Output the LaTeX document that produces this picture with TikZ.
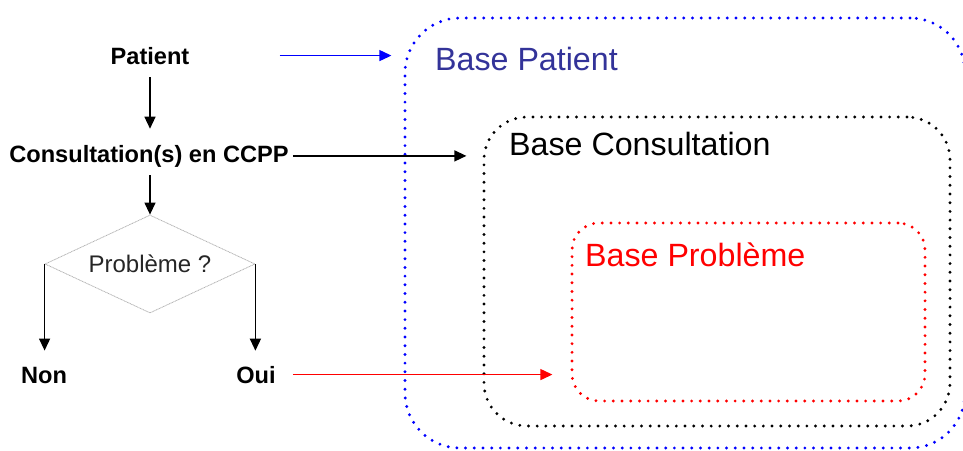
\documentclass[tikz,border=0pt]{standalone}
\usepackage{fontspec}
\setmainfont{Liberation Sans}
\usepackage{xcolor}
\definecolor{indigo}{RGB}{51,51,153}
\usetikzlibrary{shapes.geometric}
\usetikzlibrary{arrows.meta}

\tikzset{
  flow/.style={font=\fontsize{23.6}{26}\selectfont\bfseries, inner sep=0pt, anchor=base},
  arr/.style={line width=1.3pt, -{Triangle[length=12pt,width=11pt]}},
  dotbox/.style={line width=3.2pt, line cap=round, dash pattern=on 0pt off 8.7pt, rounded corners=#1, inner sep=0pt},
  boxlabel/.style={font=\fontsize{32.2}{34}\selectfont, inner sep=0pt, anchor=base west},
}

\begin{document}
\begin{tikzpicture}[x=1pt,y=-1pt]
\useasboundingbox (0,0) rectangle (963,450);
\clip (0,0) rectangle (963,450);
% bases
\node[dotbox=55pt, draw=blue, minimum width=560pt, minimum height=430pt] (bpat) at (685,233) {};
\node[dotbox=43pt, draw=black, minimum width=466pt, minimum height=309pt] (bcons) at (717,271.5) {};
\node[dotbox=27pt, draw=red, minimum width=353pt, minimum height=178pt] (bprob) at (748.5,312) {};
\node[boxlabel, text=indigo] (bpatlbl) at (435,70) {Base Patient};
\node[boxlabel] (bconslbl) at (509,155) {Base Consultation};
\node[boxlabel, text=red] (bproblbl) at (585,266) {Base Problème};
% flow
\node[flow] (patient) at (150,64) {Patient};
\node[flow] (consult) at (149,162) {Consultation(s) en CCPP};
\node[diamond, draw=black!30, line width=0.8pt, dash pattern=on 1pt off 0.6pt, aspect=2.14,
      minimum width=210pt, minimum height=98pt, inner sep=0pt,
      font=\fontsize{24}{26}\selectfont, text=black!85] (pb) at (150,264) {Problème ?};
\node[flow] (non) at (44,383) {Non};
\node[flow] (oui) at (256,383) {Oui};
\draw[arr, shorten <=13pt, shorten >=16pt] (patient.south) -- (patient.south |- consult.north);
\draw[arr, shorten <=8pt] (consult.south -| pb.north) -- (pb.north);
\draw[arr, shorten >=16pt] (pb.west) -- (pb.west |- non.north);
\draw[arr, shorten >=15pt] (pb.east) -- (pb.east |- oui.north);
\draw[arr, blue, shorten <=90pt, shorten >=12pt] (patient.east) -- (patient.east -| bpat.west);
\draw[arr, shorten <=4pt, shorten >=16pt] (consult.east) -- (consult.east -| bcons.west);
\draw[arr, red, shorten <=17pt, shorten >=18pt] (oui.east) -- (oui.east -| bprob.west);
\end{tikzpicture}
\end{document}
